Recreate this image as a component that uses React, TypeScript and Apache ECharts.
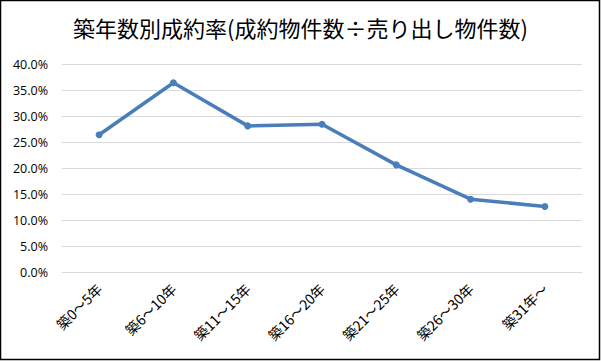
import React, { useEffect, useRef } from "react";
import * as echarts from "echarts";

const categories = ["築0～5年", "築6～10年", "築11～15年", "築16～20年", "築21～25年", "築26～30年", "築31年～"];
const rates = [26.4, 36.4, 28.1, 28.4, 20.6, 14.0, 12.6];
const titleText = "築年数別成約率(成約物件数÷売り出し物件数)";

export default function App() {
  const ref = useRef<HTMLDivElement>(null);
  useEffect(() => {
    document.body.style.margin = "0";
    const chart = echarts.init(ref.current!, null, { renderer: "svg" });
    const font = "'Noto Sans CJK JP', 'Noto Sans', sans-serif";
    chart.setOption({
      animation: false,
      backgroundColor: "#ffffff",
      title: {
        text: titleText,
        left: "center",
        top: 11,
        textStyle: { fontFamily: font, fontSize: 22, fontWeight: "normal", color: "#000000" },
      },
      graphic: [
        {
          type: "rect",
          shape: { x: 0.5, y: 0.5, width: 599, height: 359 },
          style: { fill: "none", stroke: "#000000", lineWidth: 1.5 },
          silent: true,
        },
      ],
      grid: { left: 62, right: 19, top: 64, bottom: 89 },
      xAxis: {
        type: "category",
        data: categories,
        boundaryGap: true,
        axisLine: { show: true, lineStyle: { color: "#d9d9d9" } },
        axisTick: { show: false },
        axisLabel: {
          rotate: 45,
          margin: 14,
          interval: 0,
          fontFamily: font,
          fontSize: 14,
          color: "#000000",
        },
      },
      yAxis: {
        type: "value",
        min: 0,
        max: 40,
        interval: 5,
        axisLine: { show: false },
        axisTick: { show: false },
        splitLine: { lineStyle: { color: "#d9d9d9", width: 1 } },
        axisLabel: {
          formatter: (v: number) => v.toFixed(1) + "%",
          fontFamily: "'Open Sans', 'Noto Sans', sans-serif",
          fontSize: 12.5,
          color: "#000000",
          margin: 14,
        },
      },
      series: [
        {
          type: "line",
          data: rates,
          symbol: "circle",
          symbolSize: 7,
          lineStyle: { color: "#4a7ebb", width: 3.5 },
          itemStyle: { color: "#4a7ebb" },
        },
      ],
    });
    return () => chart.dispose();
  }, []);
  return <div ref={ref} style={{ width: 601, height: 361 }} />;
}
